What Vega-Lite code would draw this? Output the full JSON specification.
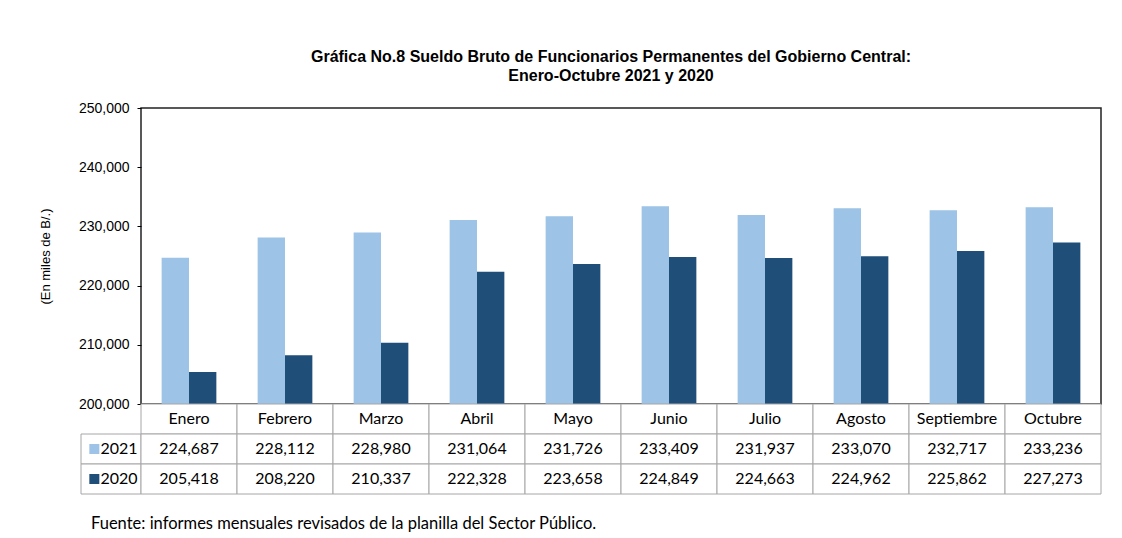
{
  "$schema": "https://vega.github.io/schema/vega-lite/v6.json",
  "padding": {"left": 38, "top": 48, "right": 10, "bottom": 5},
  "background": "white",
  "config": {
    "view": {"stroke": null},
    "font": "Liberation Sans",
    "text": {"font": "Lato", "fontSize": 16, "color": "black"}
  },
  "datasets": {
    "sueldos": [
      {"mes": "Enero", "2021": 224687, "2020": 205418},
      {"mes": "Febrero", "2021": 228112, "2020": 208220},
      {"mes": "Marzo", "2021": 228980, "2020": 210337},
      {"mes": "Abril", "2021": 231064, "2020": 222328},
      {"mes": "Mayo", "2021": 231726, "2020": 223658},
      {"mes": "Junio", "2021": 233409, "2020": 224849},
      {"mes": "Julio", "2021": 231937, "2020": 224663},
      {"mes": "Agosto", "2021": 233070, "2020": 224962},
      {"mes": "Septiembre", "2021": 232717, "2020": 225862},
      {"mes": "Octubre", "2021": 233236, "2020": 227273}
    ],
    "anios": [{"anio": "2021"}, {"anio": "2020"}]
  },
  "columns": 2,
  "spacing": 0,
  "bounds": "flush",
  "concat": [
    {
      "width": 60,
      "height": 296,
      "data": {"values": []},
      "mark": "point"
    },
    {
      "width": 960,
      "height": 296,
      "title": {
        "text": ["Gráfica No.8 Sueldo Bruto de Funcionarios Permanentes del Gobierno Central:", "Enero-Octubre  2021 y 2020"],
        "font": "Liberation Sans",
        "fontSize": 16,
        "fontWeight": "bold",
        "lineHeight": 19,
        "color": "black",
        "anchor": "middle",
        "frame": "group",
        "dx": -10,
        "offset": 17
      },
      "view": {"stroke": "#222222", "strokeWidth": 1.5},
      "data": {"name": "sueldos"},
      "transform": [{"fold": ["2021", "2020"], "as": ["anio", "valor"]}],
      "mark": {"type": "bar", "clip": true},
      "encoding": {
        "x": {
          "field": "mes", "type": "nominal", "sort": null,
          "scale": {"paddingInner": 0.43, "paddingOuter": 0.215},
          "axis": null
        },
        "xOffset": {"field": "anio", "type": "nominal", "scale": {"domain": ["2021", "2020"], "padding": 0}},
        "y": {
          "field": "valor", "type": "quantitative",
          "scale": {"domain": [200000, 250000], "zero": false, "nice": false},
          "axis": {
            "values": [200000, 210000, 220000, 230000, 240000, 250000],
            "format": ",d",
            "title": "(En miles de B/.)",
            "titleFont": "Liberation Sans",
            "titleFontSize": 13,
            "titleFontWeight": "normal",
            "titleColor": "black",
            "titlePadding": 26,
            "labelFont": "Liberation Sans",
            "labelFontSize": 14,
            "labelColor": "black",
            "labelPadding": 8,
            "tickSize": 4,
            "tickColor": "black",
            "domain": false,
            "grid": false
          }
        },
        "color": {
          "field": "anio", "type": "nominal",
          "scale": {"domain": ["2021", "2020"], "range": ["#9dc3e6", "#1f4e79"]},
          "legend": null
        }
      }
    },
    {
      "width": 60,
      "height": 90,
      "data": {"name": "anios"},
      "title": {
        "text": "Fuente: informes mensuales revisados de la planilla del Sector Público.",
        "orient": "bottom",
        "anchor": "start",
        "frame": "group",
        "dx": 10,
        "offset": 21,
        "font": "Lato",
        "fontSize": 16.5,
        "fontWeight": "normal",
        "color": "black"
      },
      "layer": [
        {
          "mark": {"type": "rect", "fill": "white", "stroke": "#a6a6a6", "strokeWidth": 1},
          "encoding": {
            "y": {
              "field": "anio", "type": "nominal",
              "scale": {"domain": ["mes", "2021", "2020"], "paddingInner": 0, "paddingOuter": 0},
              "axis": {
                "orient": "right",
                "title": null,
                "labelExpr": "datum.value === 'mes' ? '' : datum.value",
                "labelAlign": "right",
                "labelPadding": -4,
                "ticks": false,
                "tickSize": 0,
                "domain": false,
                "labelFont": "Lato",
                "labelFontSize": 16,
                "labelColor": "black"
              }
            }
          }
        },
        {
          "mark": {"type": "point", "shape": "square", "filled": true, "size": 100, "opacity": 1},
          "encoding": {
            "y": {"field": "anio", "type": "nominal"},
            "x": {"datum": "sq", "type": "nominal", "scale": {"type": "point", "domain": ["sq", "_"], "padding": 0.4}, "axis": null},
            "color": {
              "field": "anio", "type": "nominal",
              "scale": {"domain": ["2021", "2020"], "range": ["#9dc3e6", "#1f4e79"]},
              "legend": null
            }
          }
        }
      ]
    },
    {
      "width": 960,
      "height": 90,
      "data": {"name": "sueldos"},
      "encoding": {
        "x": {"field": "mes", "type": "nominal", "sort": null, "scale": {"paddingInner": 0, "paddingOuter": 0}, "axis": null}
      },
      "layer": [
        {
          "mark": {"type": "rect", "fill": "white", "stroke": "#a6a6a6", "strokeWidth": 1},
          "encoding": {
            "y": {"datum": "mes", "type": "nominal", "scale": {"domain": ["mes", "2021", "2020"], "paddingInner": 0, "paddingOuter": 0}, "axis": null}
          }
        },
        {
          "mark": {"type": "text", "baseline": "middle", "align": "center"},
          "encoding": {
            "y": {"datum": "mes", "type": "nominal"},
            "text": {"field": "mes"}
          }
        },
        {
          "transform": [{"fold": ["2021", "2020"], "as": ["anio", "valor"]}],
          "mark": {"type": "rect", "fill": "white", "stroke": "#a6a6a6", "strokeWidth": 1},
          "encoding": {
            "y": {"field": "anio", "type": "nominal"}
          }
        },
        {
          "transform": [{"fold": ["2021", "2020"], "as": ["anio", "valor"]}],
          "mark": {"type": "text", "baseline": "middle", "align": "center"},
          "encoding": {
            "y": {"field": "anio", "type": "nominal"},
            "text": {"field": "valor", "type": "quantitative", "format": ",d"}
          }
        }
      ]
    }
  ]
}
